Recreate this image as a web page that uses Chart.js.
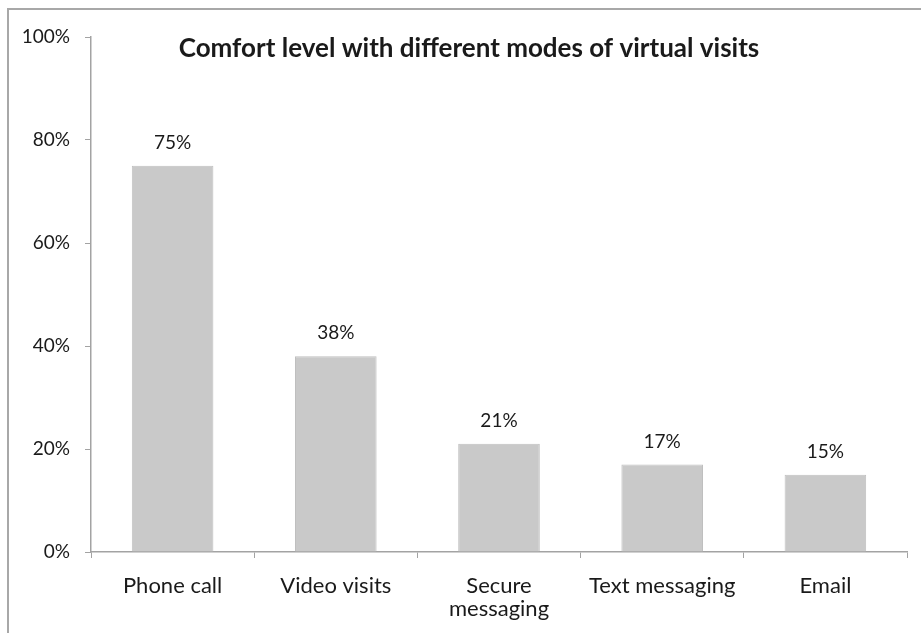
<!DOCTYPE html>
<html>
<head>
<meta charset="utf-8">
<script src="https://cdn.jsdelivr.net/npm/chart.js@4.4.1/dist/chart.umd.min.js"></script>
<style>
  html, body { margin: 0; padding: 0; background: #fff; }
  #wrap { position: relative; width: 921px; height: 633px; }
  #frame { position: absolute; left: 7px; top: 8px; right: 0; bottom: 0;
           border-top: 2px solid #a8a8a8; border-left: 2px solid #a8a8a8; }
  canvas { position: absolute; left: 0; top: 0; }
</style>
</head>
<body>
<div id="wrap">
  <div id="frame"></div>
  <canvas id="modesChart" width="921" height="633"></canvas>
</div>
<script>
// Comfort level per mode of virtual visit (%)
const modes = ['Phone call', 'Video visits', ['Secure', 'messaging'], 'Text messaging', 'Email'];
const comfort = [75, 38, 21, 17, 15];
const yTicks = [0, 20, 40, 60, 80, 100];
const chartTitle = 'Comfort level with different modes of virtual visits';

const FONT = 'Lato, "Open Sans", sans-serif';
const AXIS = '#a3a3a3';
const INK = '#1a1a1a';

// title sits inside the plot area, so it is painted by hand
const titlePlugin = {
  id: 'insideTitle',
  afterDraw(chart) {
    const ctx = chart.ctx;
    ctx.save();
    ctx.font = 'bold 26px ' + FONT;
    ctx.fillStyle = INK;
    ctx.textAlign = 'center';
    ctx.textBaseline = 'middle';
    ctx.fillText(chartTitle, 469, 49);
    ctx.restore();
  }
};

// percentage above each bar
const valueLabels = {
  id: 'valueLabels',
  afterDatasetsDraw(chart) {
    const ctx = chart.ctx;
    const meta = chart.getDatasetMeta(0);
    ctx.save();
    ctx.font = '19px ' + FONT;
    ctx.fillStyle = INK;
    ctx.textAlign = 'center';
    ctx.textBaseline = 'middle';
    meta.data.forEach((bar, i) => {
      ctx.fillText(comfort[i] + '%', bar.x, bar.y - 23);
    });
    ctx.restore();
  }
};

new Chart(document.getElementById('modesChart').getContext('2d'), {
  type: 'bar',
  data: {
    labels: modes,
    datasets: [{
      data: comfort,
      backgroundColor: '#c9c9c9',
      borderColor: '#bfbfbf',
      borderWidth: 1,
      barPercentage: 0.5,
      categoryPercentage: 1
    }]
  },
  options: {
    responsive: false,
    animation: false,
    layout: { padding: { top: 37, right: 14, left: 0, bottom: 0 } },
    plugins: {
      legend: { display: false },
      tooltip: { enabled: false }
    },
    scales: {
      x: {
        grid: { drawOnChartArea: false, drawTicks: true, tickLength: 6, color: AXIS, offset: true },
        border: { color: AXIS, width: 1.5 },
        ticks: { color: INK, font: { family: FONT, size: 22, lineHeight: 1.05 }, padding: 16, maxRotation: 0, autoSkip: false },
        afterFit(scale) { scale.height = 81; }
      },
      y: {
        min: 0,
        max: 100,
        afterBuildTicks(scale) { scale.ticks = yTicks.map(v => ({ value: v })); },
        grid: { drawOnChartArea: false, drawTicks: true, tickLength: 6, color: AXIS },
        border: { color: AXIS, width: 1.5 },
        ticks: { color: INK, font: { family: FONT, size: 19 }, padding: 15, callback: v => v + '%' },
        afterFit(scale) { scale.width = 91; }
      }
    }
  },
  plugins: [titlePlugin, valueLabels]
});
</script>
</body>
</html>
